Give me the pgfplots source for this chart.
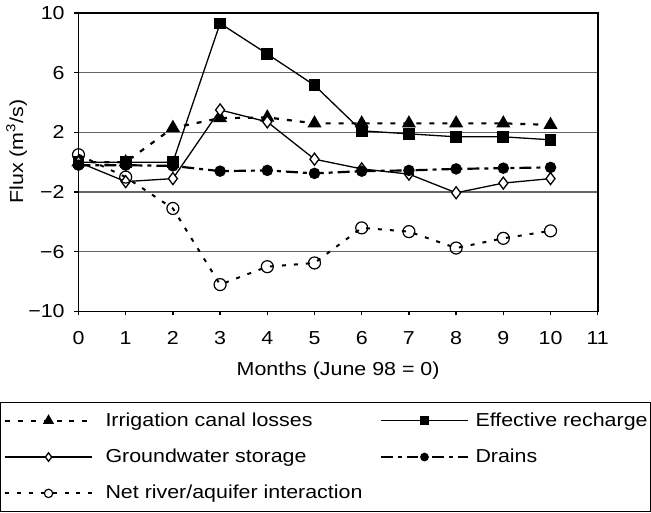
\documentclass[border=0pt]{standalone}
\usepackage{fontspec}
\setmainfont{Liberation Sans}[FakeStretch=1.14]
\usepackage{pgfplots}
\pgfplotsset{compat=1.18}

\begin{document}
\fontsize{9.4}{11}\selectfont
\begin{tikzpicture}
\begin{axis}[
    scale only axis,
    width=260pt, height=149.5pt,
    xmin=0, xmax=11,
    ymin=-10, ymax=10,
    xtick={0,1,...,11},
    ytick={-10,-6,-2,2,6,10},
    yticklabels={−10,−6,−2,2,6,10},
    /pgf/number format/assume math mode=true,
    tick align=outside,
    major tick length=2pt,
    xtick pos=bottom, ytick pos=left,
    axis line style={line width=0.9pt},
    tick style={line width=0.7pt, black},
    ymajorgrids,
    grid style={black!60, line width=0.6pt},
    xticklabel style={yshift=-4.5pt},
    yticklabel style={xshift=-1.6pt},
    xlabel={Months (June 98 = 0)},
    ylabel={Flux (m\textsuperscript{3}/s)},
    xlabel style={at={([yshift=-32.1pt]axis description cs:0.5,0)}, anchor=base},
    ylabel style={at={([xshift=-27.75pt]axis description cs:0,0.536)}, anchor=base},
    legend columns=2,
    legend cell align=left,
    legend image code/.code={
        \draw[mark repeat=2, mark phase=2, every mark/.append style={scale=0.7}]
            plot coordinates {(0pt,0pt) (22pt,0pt) (44pt,0pt)};
    },
    legend style={
        at={(axis description cs:0,0)}, anchor=north west,
        xshift=-39.25pt, yshift=-45.35pt,
        draw=black, inner xsep=1.5pt, inner ysep=5pt,
        row sep=10pt,
        nodes={inner sep=0pt},
        /tikz/column 1/.style={column sep=6pt},
        /tikz/column 2/.style={column sep=8.5pt},
        /tikz/column 3/.style={column sep=3pt},
    },
]

% Irrigation canal losses
\addplot[black, line width=1.1pt, dash pattern=on 2.5pt off 4pt,
    mark=triangle*, mark size=3pt, mark options={solid}] coordinates {
    (0,0) (1,0) (2,2.3) (3,2.95) (4,3.0) (5,2.6) (6,2.6) (7,2.6) (8,2.6) (9,2.6) (10,2.5)
};
\addlegendentry{Irrigation canal losses}

% Effective recharge
\addplot[black, line width=0.65pt, mark=square*, mark size=2.6pt] coordinates {
    (0,0) (1,0) (2,0) (3,9.3) (4,7.25) (5,5.15) (6,2.1) (7,1.9) (8,1.7) (9,1.7) (10,1.5)
};
\addlegendentry{Effective recharge}

% Groundwater storage
\addplot[black, line width=0.65pt, mark=diamond*, mark size=3pt,
    mark options={fill=white}] coordinates {
    (0,0) (1,-1.3) (2,-1.1) (3,3.5) (4,2.7) (5,0.2) (6,-0.45) (7,-0.8) (8,-2.05) (9,-1.4) (10,-1.1)
};
\addlegendentry{Groundwater storage}

% Drains
\addplot[black, line width=1.1pt, dash pattern=on 6pt off 2.5pt on 2pt off 2.5pt,
    mark=*, mark size=2.3pt, mark options={solid}] coordinates {
    (0,-0.2) (1,-0.2) (2,-0.25) (3,-0.6) (4,-0.55) (5,-0.75) (6,-0.6) (7,-0.55) (8,-0.45) (9,-0.4) (10,-0.35)
};
\addlegendentry{Drains}

% Net river/aquifer interaction
\addplot[black, line width=1pt, dash pattern=on 2pt off 4pt,
    mark=o, mark size=3pt, mark options={solid, line width=0.6pt}] coordinates {
    (0,0.5) (1,-1.0) (2,-3.1) (3,-8.2) (4,-7.0) (5,-6.75) (6,-4.4) (7,-4.65) (8,-5.75) (9,-5.1) (10,-4.6)
};
% extra depth keeps the bottom padding of the legend box
\addlegendentry{Net river/aquifer interaction\rule[-3pt]{0pt}{3pt}}

\end{axis}
\end{tikzpicture}
\end{document}
